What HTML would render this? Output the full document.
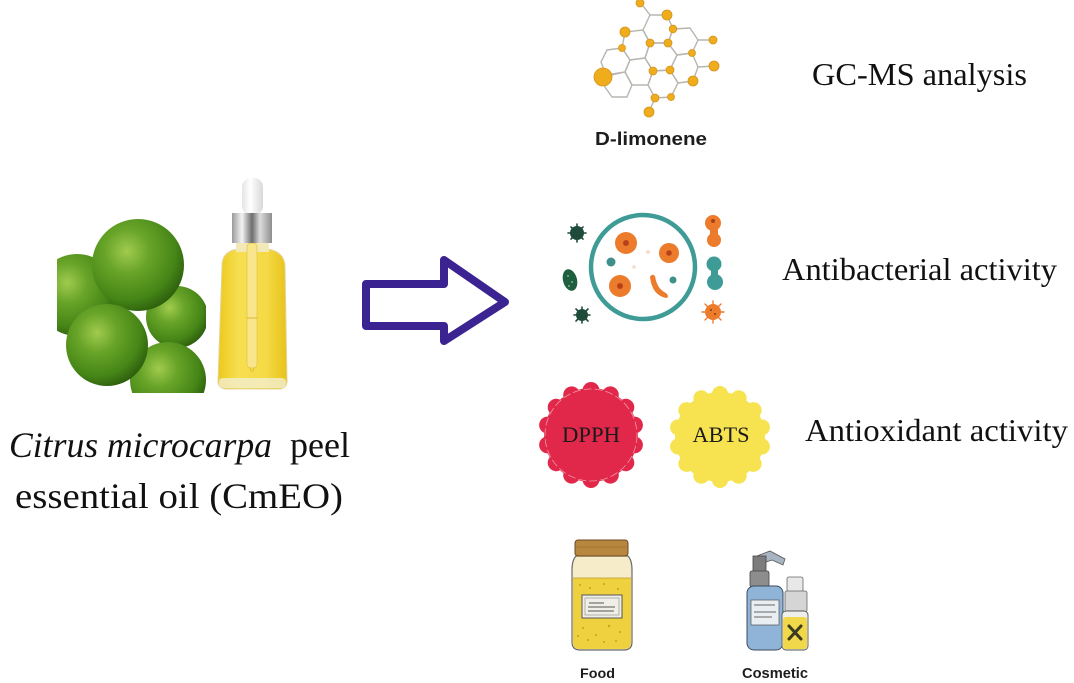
<!DOCTYPE html>
<html><head><meta charset="utf-8"><style>
html,body{margin:0;padding:0;background:#fff;}
svg{display:block;}
</style></head><body>
<svg width="1074" height="683" viewBox="0 0 1074 683" xmlns="http://www.w3.org/2000/svg">
<defs>
<radialGradient id="lime" cx="0.38" cy="0.35" r="0.7">
<stop offset="0" stop-color="#a0cb4e"/>
<stop offset="0.35" stop-color="#68a428"/>
<stop offset="0.75" stop-color="#468617"/>
<stop offset="1" stop-color="#2c5c0d"/>
</radialGradient>
<clipPath id="limeclip"><rect x="57" y="218" width="149" height="175"/></clipPath>
<linearGradient id="oil" x1="0" x2="1" y1="0" y2="0">
<stop offset="0" stop-color="#ecc81c"/>
<stop offset="0.3" stop-color="#f6df50"/>
<stop offset="0.7" stop-color="#f4da45"/>
<stop offset="1" stop-color="#e8c21a"/>
</linearGradient>
<linearGradient id="silver" x1="0" x2="1" y1="0" y2="0">
<stop offset="0" stop-color="#9a9a9a"/>
<stop offset="0.25" stop-color="#f4f4f4"/>
<stop offset="0.5" stop-color="#6e6e6e"/>
<stop offset="0.7" stop-color="#dcdcdc"/>
<stop offset="1" stop-color="#8e8e8e"/>
</linearGradient>
<linearGradient id="bulb" x1="0" x2="1" y1="0" y2="0">
<stop offset="0" stop-color="#e4e4e4"/>
<stop offset="0.4" stop-color="#ffffff"/>
<stop offset="1" stop-color="#d8d8d8"/>
</linearGradient>
</defs>

<!-- Limes -->
<g clip-path="url(#limeclip)">
<circle cx="177" cy="317" r="31" fill="url(#lime)"/>
<circle cx="77" cy="295" r="41" fill="url(#lime)"/>
<circle cx="168" cy="380" r="38" fill="url(#lime)"/>
<circle cx="138" cy="265" r="46" fill="url(#lime)"/>
<circle cx="107" cy="345" r="41" fill="url(#lime)"/>
</g>

<!-- Dropper bottle -->
<path d="M222,266 Q222,251 238,249 L267,249 Q284,251 285,266 L287,381 Q287,389 278,389 L227,389 Q218,389 218,381 Z" fill="url(#oil)" stroke="#e3d59a" stroke-width="1"/>
<rect x="219" y="378" width="67" height="10" rx="4" fill="#f3eed0" opacity="0.8"/>
<rect x="236" y="242" width="33" height="10" fill="#f3e9b8"/>
<rect x="247" y="243" width="10" height="125" rx="4" fill="#f9e68c" stroke="#e0c441" stroke-width="0.7"/>
<line x1="247" y1="318" x2="257" y2="318" stroke="#d9b830" stroke-width="1"/>
<path d="M250,368 Q252,375 254,368" fill="#f2d94a" stroke="#d9b830" stroke-width="0.7"/>
<rect x="242" y="178" width="21" height="37" rx="9" fill="url(#bulb)"/>
<rect x="232" y="213" width="40" height="30" fill="url(#silver)"/>

<!-- Arrow -->
<path d="M366,284 L444,284 L444,260 L505,302 L444,341 L444,326 L366,326 Z" fill="#fff" stroke="#3b2391" stroke-width="8" stroke-linejoin="round"/>

<!-- Molecule -->
<g fill="none" stroke="#b9b6b0" stroke-width="1.4" stroke-linejoin="round">
<path d="M607,50 L622,48 L630,60 L625,72 L606,75 L601,62 Z"/>
<path d="M603,77 L625,72 L632,85 L627,97 L612,97 L605,87 Z"/>
<path d="M625,32 L643,30 L650,43 L645,58 L630,60 L622,48 Z"/>
<path d="M630,60 L645,58 L653,71 L648,85 L632,85 L625,72 Z"/>
<path d="M643,30 L650,15 L667,15 L673,29 L668,43 L650,43 Z"/>
<path d="M673,29 L690,28 L698,40 L692,53 L677,55 L668,43 Z"/>
<path d="M650,43 L668,43 L677,55 L670,70 L653,71 L645,58 Z"/>
<path d="M677,55 L692,53 L698,67 L693,81 L678,83 L670,70 Z"/>
<path d="M653,71 L670,70 L678,83 L671,97 L655,98 L648,85 Z"/>
<path d="M640,2 L650,15 M698,40 L713,40 M698,67 L714,66 M655,98 L649,112"/>
</g>
<g fill="#efac1c" stroke="#d4931a" stroke-width="0.8">
<circle cx="640" cy="3" r="4"/>
<circle cx="667" cy="15" r="5"/>
<circle cx="625" cy="32" r="5"/>
<circle cx="673" cy="29" r="3.8"/>
<circle cx="622" cy="48" r="3.5"/>
<circle cx="650" cy="43" r="4"/>
<circle cx="668" cy="43" r="4"/>
<circle cx="713" cy="40" r="4"/>
<circle cx="692" cy="53" r="3.5"/>
<circle cx="603" cy="77" r="9"/>
<circle cx="653" cy="71" r="4"/>
<circle cx="670" cy="70" r="4"/>
<circle cx="714" cy="66" r="5"/>
<circle cx="693" cy="81" r="5"/>
<circle cx="655" cy="98" r="4"/>
<circle cx="671" cy="97" r="3.5"/>
<circle cx="649" cy="112" r="5"/>
</g>
<text x="595" y="145" font-family="Liberation Sans, sans-serif" font-weight="bold" font-size="18" fill="#1d1d1d" textLength="112" lengthAdjust="spacingAndGlyphs">D-limonene</text>

<!-- Bacteria icon -->
<circle cx="643" cy="267" r="52" fill="none" stroke="#3f9b96" stroke-width="4.5"/>
<circle cx="626" cy="243" r="11" fill="#ec7b2c"/><circle cx="626" cy="243" r="3" fill="#b8411c"/>
<circle cx="669" cy="253" r="10" fill="#ec7b2c"/><circle cx="669" cy="253" r="2.8" fill="#b8411c"/>
<circle cx="620" cy="286" r="11" fill="#ec7b2c"/><circle cx="620" cy="286" r="3" fill="#b8411c"/>
<path d="M650,277 Q652,295 666,298 Q670,297 666,293 Q657,289 655,276 Q652,273 650,277 Z" fill="#ec7b2c"/>
<circle cx="611" cy="262" r="4.5" fill="#3f8f8a"/>
<circle cx="673" cy="280" r="3.5" fill="#3f8f8a"/>
<circle cx="648" cy="252" r="2" fill="#f3dccb"/>
<circle cx="634" cy="267" r="1.8" fill="#f3dccb"/>
<g stroke="#1f4c3a" stroke-width="1.6" stroke-linecap="round">
<path d="M577,224 L577,242 M568,233 L586,233 M571,227 L583,239 M583,227 L571,239"/>
<path d="M582,307 L582,323 M574,315 L590,315 M576,309 L588,321 M588,309 L576,321"/>
</g>
<circle cx="577" cy="233" r="7" fill="#1f4c3a"/>
<circle cx="582" cy="315" r="6" fill="#1f4c3a"/>
<ellipse cx="570" cy="280" rx="7" ry="11" transform="rotate(-15 570 280)" fill="#1f5e3f"/>
<circle cx="568" cy="276" r="1" fill="#6fb08a"/><circle cx="572" cy="282" r="1" fill="#6fb08a"/><circle cx="569" cy="286" r="1" fill="#6fb08a"/>
<circle cx="713" cy="223" r="8" fill="#ec7b2c"/>
<circle cx="714" cy="240" r="7" fill="#ec7b2c"/>
<rect x="710" y="225" width="8" height="14" fill="#ec7b2c"/>
<circle cx="713" cy="221" r="2" fill="#a8401c"/>
<circle cx="714" cy="264" r="7.5" fill="#3f9b96"/>
<circle cx="715" cy="282" r="8" fill="#3f9b96"/>
<rect x="711" y="266" width="7" height="14" fill="#3f9b96"/>
<g stroke="#ec7b2c" stroke-width="1.4" stroke-linecap="round">
<path d="M713,301 L713,323 M702,312 L724,312 M705,304 L721,320 M721,304 L705,320"/>
</g>
<ellipse cx="713" cy="312" rx="8" ry="8" fill="#ec7b2c"/>
<circle cx="711" cy="310" r="1" fill="#8a3a14"/><circle cx="715" cy="314" r="1" fill="#8a3a14"/>

<!-- DPPH badge -->
<g transform="translate(591 435)" fill="#e1284b">
<circle r="47"/>
<circle cx="0" cy="-44.5" r="8.5"/>
<circle cx="0" cy="-44.5" r="8.5" transform="rotate(25.71)"/>
<circle cx="0" cy="-44.5" r="8.5" transform="rotate(51.43)"/>
<circle cx="0" cy="-44.5" r="8.5" transform="rotate(77.14)"/>
<circle cx="0" cy="-44.5" r="8.5" transform="rotate(102.86)"/>
<circle cx="0" cy="-44.5" r="8.5" transform="rotate(128.57)"/>
<circle cx="0" cy="-44.5" r="8.5" transform="rotate(154.29)"/>
<circle cx="0" cy="-44.5" r="8.5" transform="rotate(180)"/>
<circle cx="0" cy="-44.5" r="8.5" transform="rotate(205.71)"/>
<circle cx="0" cy="-44.5" r="8.5" transform="rotate(231.43)"/>
<circle cx="0" cy="-44.5" r="8.5" transform="rotate(257.14)"/>
<circle cx="0" cy="-44.5" r="8.5" transform="rotate(282.86)"/>
<circle cx="0" cy="-44.5" r="8.5" transform="rotate(308.57)"/>
<circle cx="0" cy="-44.5" r="8.5" transform="rotate(334.29)"/>
<circle r="46" fill="none" stroke="#f4b3be" stroke-width="0.8" stroke-dasharray="8 3" opacity="0.8"/>
</g>
<text x="591" y="442" text-anchor="middle" font-family="Liberation Serif, serif" font-size="22" fill="#1a1a1a" textLength="58" lengthAdjust="spacingAndGlyphs">DPPH</text>

<!-- ABTS badge -->
<g transform="translate(720 437)" fill="#f6e34f">
<circle r="45"/>
<circle cx="0" cy="-43" r="8"/>
<circle cx="0" cy="-43" r="8" transform="rotate(25.71)"/>
<circle cx="0" cy="-43" r="8" transform="rotate(51.43)"/>
<circle cx="0" cy="-43" r="8" transform="rotate(77.14)"/>
<circle cx="0" cy="-43" r="8" transform="rotate(102.86)"/>
<circle cx="0" cy="-43" r="8" transform="rotate(128.57)"/>
<circle cx="0" cy="-43" r="8" transform="rotate(154.29)"/>
<circle cx="0" cy="-43" r="8" transform="rotate(180)"/>
<circle cx="0" cy="-43" r="8" transform="rotate(205.71)"/>
<circle cx="0" cy="-43" r="8" transform="rotate(231.43)"/>
<circle cx="0" cy="-43" r="8" transform="rotate(257.14)"/>
<circle cx="0" cy="-43" r="8" transform="rotate(282.86)"/>
<circle cx="0" cy="-43" r="8" transform="rotate(308.57)"/>
<circle cx="0" cy="-43" r="8" transform="rotate(334.29)"/>
</g>
<text x="721" y="442" text-anchor="middle" font-family="Liberation Serif, serif" font-size="22" fill="#1a1a1a" textLength="57" lengthAdjust="spacingAndGlyphs">ABTS</text>

<!-- Food jar -->
<path d="M576,556 L628,556 Q632,560 632,570 L632,642 Q632,650 624,650 L580,650 Q572,650 572,642 L572,570 Q572,560 576,556 Z" fill="#f6ecc9" stroke="#6a6a6a" stroke-width="1.2"/>
<path d="M573,578 L631,578 L631,642 Q631,649 624,649 L580,649 Q573,649 573,642 Z" fill="#efd03e"/>
<line x1="573" y1="578" x2="631" y2="578" stroke="#b89c2c" stroke-width="0.8"/>
<rect x="575" y="540" width="53" height="16" rx="3" fill="#b8873f" stroke="#6b4a22" stroke-width="1"/>
<line x1="576" y1="547" x2="627" y2="547" stroke="#8d6428" stroke-width="0.6"/>
<rect x="582" y="595" width="40" height="23" fill="#efefe8" stroke="#555" stroke-width="1"/>
<rect x="585" y="598" width="34" height="17" fill="none" stroke="#888" stroke-width="0.6"/>
<path d="M589,603 L604,603 M588,607 L615,607 M588,611 L614,611" stroke="#555" stroke-width="1"/>
<g fill="#c6a21f">
<circle cx="580" cy="585" r="1"/><circle cx="590" cy="588" r="1"/><circle cx="604" cy="584" r="1"/><circle cx="618" cy="589" r="1"/>
<circle cx="583" cy="628" r="1"/><circle cx="596" cy="635" r="1"/><circle cx="609" cy="626" r="1.2"/><circle cx="620" cy="632" r="1"/>
<circle cx="588" cy="640" r="1"/><circle cx="604" cy="642" r="1"/><circle cx="616" cy="641" r="1"/><circle cx="578" cy="636" r="1"/>
</g>
<text x="597.5" y="678" text-anchor="middle" font-family="Liberation Sans, sans-serif" font-weight="bold" font-size="14" fill="#1d1d1d" textLength="35" lengthAdjust="spacingAndGlyphs">Food</text>

<!-- Cosmetic bottles -->
<path d="M757,556 L770,551 L785,559 L783,565 L772,560 L766,562 Z" fill="#a9b4c2" stroke="#555" stroke-width="0.8"/>
<rect x="753" y="556" width="13" height="16" fill="#7c7c7c" stroke="#444" stroke-width="0.8"/>
<rect x="750" y="571" width="19" height="16" rx="2" fill="#8d8d8d" stroke="#444" stroke-width="0.8"/>
<rect x="747" y="586" width="36" height="64" rx="7" fill="#8fb4d8" stroke="#3c4a5c" stroke-width="1"/>
<rect x="751" y="600" width="28" height="25" fill="#e9eef2" stroke="#555" stroke-width="0.7"/>
<path d="M754,605 L775,605 M754,612 L776,612 M754,617 L772,617" stroke="#666" stroke-width="0.9"/>
<rect x="787" y="577" width="16" height="15" rx="2" fill="#e8e8e8" stroke="#666" stroke-width="0.8"/>
<rect x="785" y="591" width="22" height="21" rx="2" fill="#d5d5d5" stroke="#666" stroke-width="0.8"/>
<rect x="782" y="611" width="26" height="39" rx="4" fill="#eeeeea" stroke="#555" stroke-width="0.9"/>
<rect x="783" y="617" width="24" height="32" rx="3" fill="#f0d84a"/>
<path d="M789,626 L801,639 M801,626 L789,639" stroke="#3b3b22" stroke-width="3" stroke-linecap="round"/>
<text x="775" y="678" text-anchor="middle" font-family="Liberation Sans, sans-serif" font-weight="bold" font-size="14.5" fill="#1d1d1d" textLength="66" lengthAdjust="spacingAndGlyphs">Cosmetic</text>

<!-- Left labels -->
<text x="9" y="457" font-family="Liberation Serif, serif" font-style="italic" font-size="36" fill="#111" textLength="263" lengthAdjust="spacingAndGlyphs">Citrus microcarpa</text>
<text x="290" y="457" font-family="Liberation Serif, serif" font-size="36" fill="#111" textLength="60" lengthAdjust="spacingAndGlyphs">peel</text>
<text x="15" y="508" font-family="Liberation Serif, serif" font-size="36" fill="#111" textLength="328" lengthAdjust="spacingAndGlyphs">essential oil (CmEO)</text>

<!-- Right labels -->
<text x="812" y="85" font-family="Liberation Serif, serif" font-size="32" fill="#111" textLength="215" lengthAdjust="spacingAndGlyphs">GC-MS analysis</text>
<text x="782" y="280" font-family="Liberation Serif, serif" font-size="32" fill="#111" textLength="275" lengthAdjust="spacingAndGlyphs">Antibacterial activity</text>
<text x="805" y="441" font-family="Liberation Serif, serif" font-size="32" fill="#111" textLength="263" lengthAdjust="spacingAndGlyphs">Antioxidant activity</text>
</svg>
</body></html>
